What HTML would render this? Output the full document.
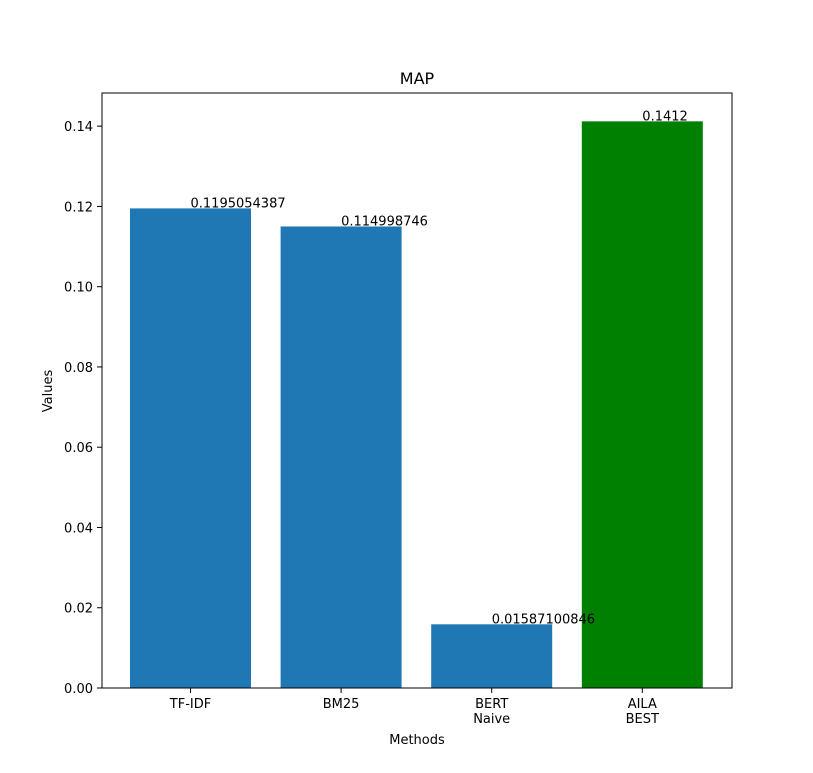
<!DOCTYPE html>
<html><head><meta charset="utf-8"><style>
body{margin:0;background:#fff;}
svg{display:block;font-family:"DejaVu Sans","Liberation Sans",sans-serif;}
</style></head><body>
<svg id="chart" width="813" height="773">
<rect width="813" height="773" fill="#fff"/>
<text x="417" y="84" text-anchor="middle" font-size="16">MAP</text>
<g id="bars"></g><g id="yticks"></g><g id="xticks"></g><g id="labels"></g>
<rect x="102" y="93" width="630" height="595" fill="none" stroke="#000" stroke-width="1"/>
<text x="417" y="744" text-anchor="middle" font-size="13">Methods</text>
<text transform="translate(52,391) rotate(-90)" text-anchor="middle" font-size="13">Values</text>
</svg>
<script>
const categories=[["TF-IDF"],["BM25"],["BERT"," Naive"],["AILA","BEST"]];
const values=[0.1195054387,0.114998746,0.01587100846,0.1412];
const valueLabels=["0.1195054387","0.114998746","0.01587100846","0.1412"];
const colors=["#1f77b4","#1f77b4","#1f77b4","#008000"];
const yTicks=[0,0.02,0.04,0.06,0.08,0.10,0.12,0.14];
const yTickLabels=["0.00","0.02","0.04","0.06","0.08","0.10","0.12","0.14"];
const NS="http://www.w3.org/2000/svg";
const yMax=Math.max(...values)*1.05;
function y(v){return 688-v/yMax*595;}
function x(u){return 190.5+u*150.6;}
function mk(t,a,p){const e=document.createElementNS(NS,t);for(const k in a)e.setAttribute(k,a[k]);p.appendChild(e);return e;}
const gb=document.getElementById('bars'),gy=document.getElementById('yticks'),gx=document.getElementById('xticks'),gl=document.getElementById('labels');
values.forEach((v,i)=>{
 const r=mk('rect',{x:x(i)-60.5,y:y(v),width:121,height:688-y(v),fill:colors[i]},gb);
 
 
 const t=mk('text',{x:x(i),y:y(v)-1,'font-size':13},gl);t.textContent=valueLabels[i];
 
 
 const tk=mk('line',{x1:x(i),x2:x(i),y1:688,y2:693,stroke:'#000'},gx);
 
 
 categories[i].forEach((s,j)=>{const l=mk('text',{x:x(i),y:708+j*15,'font-size':13,'text-anchor':'middle','xml:space':'preserve'},gx);l.textContent=s;
 
 });
});
yTicks.forEach((v,i)=>{
 const tk=mk('line',{x1:97,x2:102,y1:y(v),y2:y(v),stroke:'#000'},gy);
 
 
 const l=mk('text',{x:93,y:y(v)+5,'font-size':13,'text-anchor':'end'},gy);l.textContent=yTickLabels[i];
 
 
});
</script>
</body></html>
